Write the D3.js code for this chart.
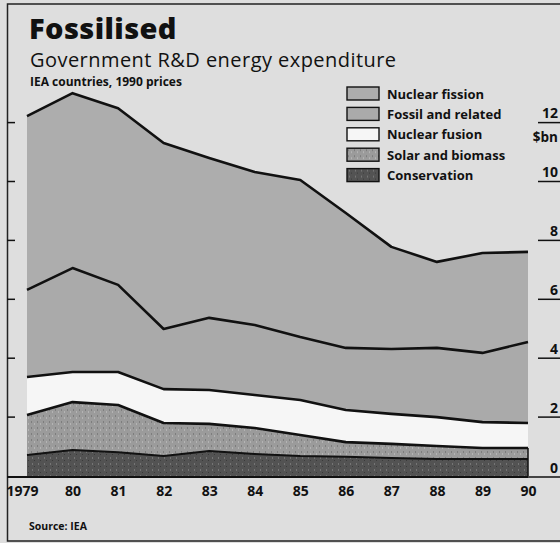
<!DOCTYPE html>
<html>
<head>
<meta charset="utf-8">
<script src="https://cdn.jsdelivr.net/npm/d3@7"></script>
<style>
  html, body { margin: 0; padding: 0; background: #dedede; }
  svg { display: block; }
  text { font-family: "Open Sans", "DejaVu Sans", sans-serif; fill: #111; }
</style>
</head>
<body>
<svg id="chart" width="560" height="543"></svg>
<script>
// Government R&D energy expenditure, IEA countries, $bn at 1990 prices
const years = [1979, 1980, 1981, 1982, 1983, 1984, 1985, 1986, 1987, 1988, 1989, 1990];
const yearLabels = ["1979", "80", "81", "82", "83", "84", "85", "86", "87", "88", "89", "90"];

const conservation = [0.71, 0.88, 0.81, 0.68, 0.85, 0.75, 0.68, 0.65, 0.61, 0.58, 0.58, 0.58];
const solarBiomass = [1.36, 1.63, 1.60, 1.12, 0.92, 0.88, 0.71, 0.50, 0.48, 0.44, 0.37, 0.37];
const nuclearFusion = [1.29, 1.02, 1.12, 1.15, 1.15, 1.12, 1.19, 1.09, 1.02, 0.98, 0.88, 0.85];
const fossilRelated = [2.96, 3.53, 2.96, 2.04, 2.45, 2.38, 2.14, 2.11, 2.20, 2.35, 2.35, 2.75];
const nuclearFission = [5.90, 5.94, 6.00, 6.32, 5.43, 5.19, 5.33, 4.58, 3.47, 2.92, 3.39, 3.06];

const seriesNames = ["Nuclear fission", "Fossil and related", "Nuclear fusion", "Solar and biomass", "Conservation"];
const yTicks = [0, 2, 4, 6, 8, 10, 12];

// stacking order, bottom to top
const keys = ["conservation", "solar", "fusion", "fossil", "fission"];
const table = years.map((yr, i) => ({
  year: yr,
  conservation: conservation[i],
  solar: solarBiomass[i],
  fusion: nuclearFusion[i],
  fossil: fossilRelated[i],
  fission: nuclearFission[i]
}));

const fills = {
  fission: "#adadad",
  fossil: "#aaaaaa",
  fusion: "#f6f6f6",
  solar: "url(#speckle)",
  conservation: "url(#darkspeckle)"
};
const legendKeys = ["fission", "fossil", "fusion", "solar", "conservation"];

const svg = d3.select("#chart");

// textures for the two lower bands
const defs = svg.append("defs");
const sp = defs.append("pattern").attr("id", "speckle")
  .attr("width", 6).attr("height", 6).attr("patternUnits", "userSpaceOnUse");
sp.append("rect").attr("width", 6).attr("height", 6).attr("fill", "#9b9b9b");
sp.append("rect").attr("x", 1).attr("y", 1).attr("width", 1).attr("height", 2).attr("fill", "#7d7d7d");
sp.append("rect").attr("x", 4).attr("y", 3).attr("width", 1).attr("height", 2).attr("fill", "#b4b4b4");
const dk = defs.append("pattern").attr("id", "darkspeckle")
  .attr("width", 6).attr("height", 6).attr("patternUnits", "userSpaceOnUse");
dk.append("rect").attr("width", 6).attr("height", 6).attr("fill", "#535353");
dk.append("rect").attr("x", 2).attr("y", 1).attr("width", 1).attr("height", 2).attr("fill", "#757575");
dk.append("rect").attr("x", 4).attr("y", 4).attr("width", 1).attr("height", 1).attr("fill", "#3a3a3a");

const x = d3.scaleLinear().domain([1979, 1990]).range([27, 528]);
const y = d3.scaleLinear().domain([0, 12]).range([476, 122.6]);

const layers = d3.stack().keys(keys)(table);

const area = d3.area()
  .x(d => x(d.data.year))
  .y0(d => y(d[0]))
  .y1(d => y(d[1]));
const topLine = d3.line()
  .x(d => x(d.data.year))
  .y(d => y(d[1]));

// outer frame
svg.append("path")
  .attr("d", "M560,4 H7.5 V541 H560")
  .attr("fill", "none").attr("stroke", "#222").attr("stroke-width", 1.5);

// stacked bands
svg.append("g").selectAll("path")
  .data(layers)
  .join("path")
  .attr("d", area)
  .attr("fill", d => fills[d.key]);

// band boundaries
svg.append("g").selectAll("path")
  .data(layers)
  .join("path")
  .attr("d", topLine)
  .attr("fill", "none")
  .attr("stroke", "#111")
  .attr("stroke-width", d => d.key === "conservation" ? 2 : 2.6)
  .attr("stroke-linejoin", "round");

// closing edge at the last year over the lower bands
const last = layers[1][layers[1].length - 1];
svg.append("line")
  .attr("x1", x(1990)).attr("x2", x(1990))
  .attr("y1", y(last[1])).attr("y2", y(0))
  .attr("stroke", "#111").attr("stroke-width", 1.5);

// x axis baseline and labels
svg.append("line")
  .attr("x1", 7).attr("x2", x(1990))
  .attr("y1", 477).attr("y2", 477)
  .attr("stroke", "#111").attr("stroke-width", 2);

const xAxis = d3.axisBottom(x)
  .tickValues(years)
  .tickSize(0)
  .tickPadding(0)
  .tickFormat((d, i) => yearLabels[i]);
const gx = svg.append("g").attr("transform", "translate(0,484)").call(xAxis);
gx.select(".domain").remove();
gx.selectAll("text")
  .attr("dy", "0.85em")
  .attr("dx", (d, i) => i === 0 ? -5 : 0)
  .style("font-size", "14px")
  .style("font-weight", "700")
  .style("font-family", "'Open Sans', sans-serif")
  .attr("fill", "#111");

// right-hand value axis: labels sit above short tick rules
const gy = svg.append("g");
gy.selectAll("line")
  .data(yTicks)
  .join("line")
  .attr("x1", d => d === 0 ? x(1990) : 538)
  .attr("x2", 560)
  .attr("y1", d => d === 0 ? 477 : y(d))
  .attr("y2", d => d === 0 ? 477 : y(d))
  .attr("stroke", "#111").attr("stroke-width", 1.5);
gy.selectAll("text")
  .data(yTicks)
  .join("text")
  .attr("x", 558)
  .attr("y", d => (d === 0 ? 477 : y(d)) - 4.5)
  .attr("text-anchor", "end")
  .style("font-size", "14px")
  .style("font-weight", "700")
  .text(d => d);
svg.append("text")
  .attr("x", 558).attr("y", 142)
  .attr("text-anchor", "end")
  .style("font-size", "13.5px")
  .style("font-weight", "700")
  .text("$bn");

// left-hand tick marks
svg.append("g").selectAll("line")
  .data(yTicks.filter(d => d > 0))
  .join("line")
  .attr("x1", 7).attr("x2", 15)
  .attr("y1", d => y(d)).attr("y2", d => y(d))
  .attr("stroke", "#111").attr("stroke-width", 1.5);

// titles
svg.append("text").attr("x", 29).attr("y", 39)
  .style("font-size", "29px").style("font-weight", "800")
  .style("letter-spacing", "0.4px")
  .text("Fossilised");
svg.append("text").attr("x", 30).attr("y", 67)
  .style("font-size", "20px").style("font-weight", "400")
  .style("letter-spacing", "0.45px")
  .text("Government R&D energy expenditure");
svg.append("text").attr("x", 30).attr("y", 86)
  .style("font-size", "12px").style("font-weight", "700")
  .text("IEA countries, 1990 prices");

// legend
const legend = svg.append("g").attr("transform", "translate(347,87)");
const rows = legend.selectAll("g")
  .data(legendKeys)
  .join("g")
  .attr("transform", (d, i) => `translate(0,${i * 20.4})`);
rows.append("rect")
  .attr("width", 32).attr("height", 13)
  .attr("fill", d => fills[d])
  .attr("stroke", "#111").attr("stroke-width", 1.4);
rows.append("text")
  .attr("x", 40).attr("y", 11.5)
  .style("font-size", "13px").style("font-weight", "700")
  .text((d, i) => seriesNames[i]);

// source note
svg.append("text").attr("x", 29).attr("y", 530)
  .style("font-size", "10.5px").style("font-weight", "700")
  .text("Source: IEA");
</script>
</body>
</html>
